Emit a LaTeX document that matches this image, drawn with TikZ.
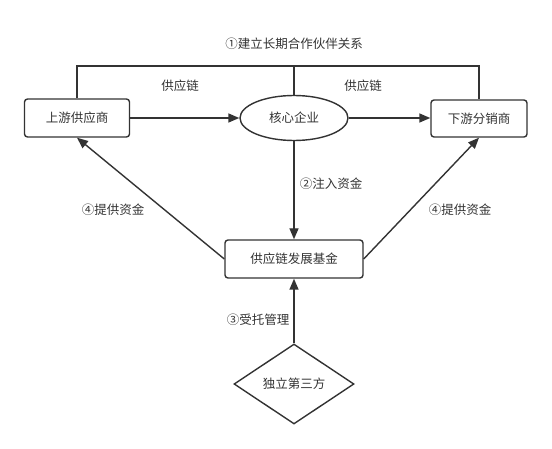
\documentclass[tikz,border=0pt]{standalone}
\usepackage{fontspec}
\setmainfont{Noto Sans CJK SC}
\usetikzlibrary{arrows.meta, shapes.geometric}
\definecolor{ink}{HTML}{333333}
\tikzset{>={Triangle[length=11pt, width=9pt]}, font=\fontsize{12.5}{15}\selectfont}
\tikzset{party/.style={shape=rectangle, draw=ink, text=ink, rounded corners=3pt,
    line width=1.4pt, inner sep=0pt, fill=white}}
\tikzset{core/.style={shape=ellipse, draw=ink, text=ink, line width=1.4pt,
    inner sep=0pt, minimum width=108pt, minimum height=45pt, fill=white}}
\tikzset{judge/.style={shape=diamond, draw=ink, text=ink, line width=1.4pt,
    inner sep=0pt, aspect=1.5, minimum width=120pt, minimum height=80pt}}
\tikzset{link/.style={draw=ink, line width=1.4pt}}
\tikzset{note/.style={text=ink, inner sep=1pt}}

\begin{document}
\begin{tikzpicture}[x=1pt, y=-1pt]
      \useasboundingbox (0,0) rectangle (552,449);
      \node[party, minimum width=105pt, minimum height=38pt] (up) at (77,118) {上游供应商};
      \node[core] (hub) at (294,118) {核心企业};
      \node[party, minimum width=96pt, minimum height=37pt] (down) at (479,118.5) {下游分销商};
      \node[party, minimum width=138pt, minimum height=38pt] (fund) at (294,259) {供应链发展基金};
      \node[judge] (third) at (294,384) {独立第三方};
      \coordinate (roof) at (294,66);
      % partnership frame
      \draw[link] (up.north) |- (roof) -| (down.north);
      \draw[link] (hub.north) -- (roof);
      \node[note] (pact) at (294,44) {①建立长期合作伙伴关系};
      % supply chain
      \draw[link, ->] (up) -- (hub);
      \draw[link, ->] (hub.east) -- (hub.east -| down.west);
      \node[note] (chain1) at (180,86) {供应链};
      \node[note] (chain2) at (363,86) {供应链};
      % funds
      \draw[link, ->] (hub.south) -- (fund.north);
      \node[note] (inject) at (331,184) {②注入资金};
      \draw[link, ->] (third.north) -- (fund.south);
      \node[note] (trust) at (258,320) {③受托管理};
      \draw[link, ->] (fund.west) -- (up.south);
      \draw[link, ->] (fund.east) -- (down.south);
      \node[note] (pay1) at (113,210) {④提供资金};
      \node[note] (pay2) at (460,210) {④提供资金};
    \end{tikzpicture}
\end{document}
